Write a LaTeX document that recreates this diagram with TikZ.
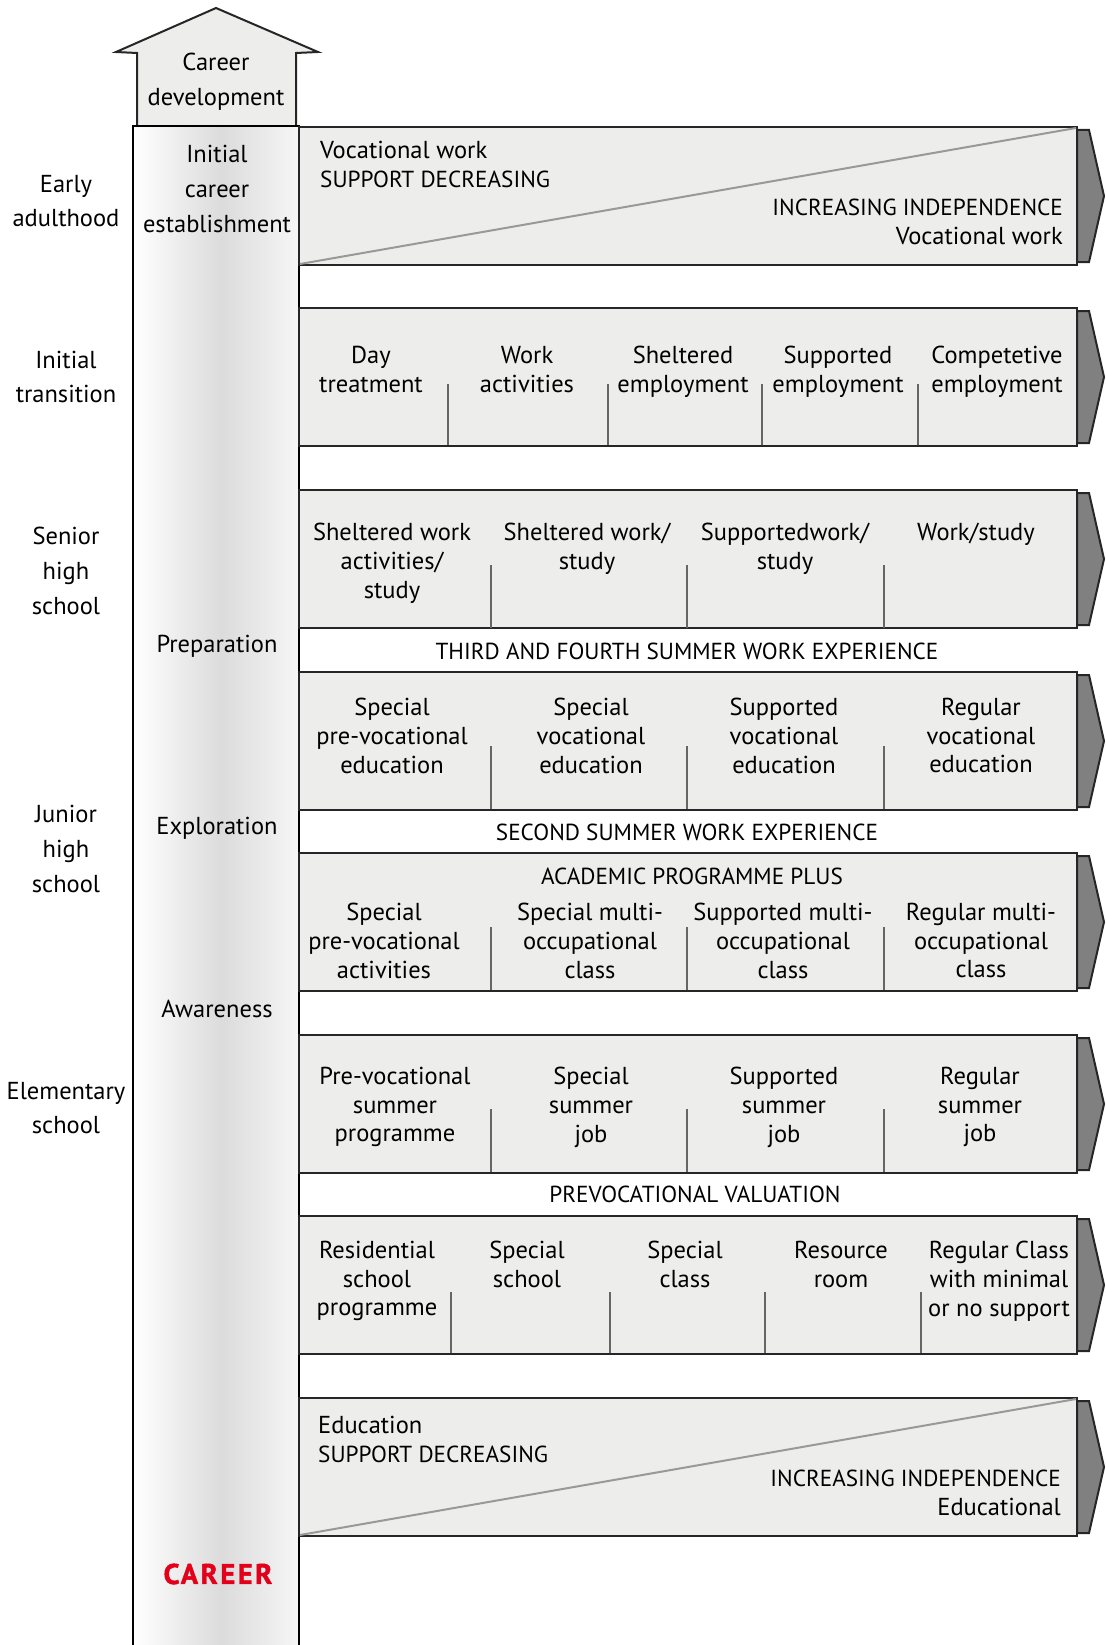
\documentclass[tikz,border=0pt]{standalone}
\usepackage{fontspec}
\setmainfont{PT Sans}
\newfontfamily\careerfont[LetterSpace=9,BoldFeatures={FakeBold=1.6}]{PT Sans}
\usepackage{tikz}

\definecolor{bandgray}{RGB}{237,237,235}
\definecolor{tipgray}{RGB}{128,128,128}
\definecolor{careerred}{RGB}{226,0,26}
\newcommand{\capsz}{\fontsize{23.2}{28.7}\selectfont}

\begin{document}
\begin{tikzpicture}[x=1pt,y=-1pt,
	bandbox/.style={draw=black!85,fill=bandgray,line width=2pt},
	tiphead/.style={draw=black!85,fill=tipgray,line width=2pt},
	divline/.style={draw=black!60,line width=1.2pt},
	slant/.style={draw=black!40,line width=2pt},
	txtnode/.style={font=\fontsize{24.5}{28.7}\selectfont,align=center,inner sep=0pt},
	topnode/.style={txtnode,anchor=north},
	capnode/.style={txtnode,font=\capsz},
	sidenode/.style={font=\fontsize{24.5}{34.6}\selectfont,align=center,inner sep=0pt}]
		\useasboundingbox (0,0) rectangle (1105,1645);
		% career column and arrow
		\shade[left color=white,right color=gray!28] (133,126) rectangle (222,1645);
		\shade[left color=gray!28,right color=gray!7] (221,126) rectangle (299,1645);
		\draw[bandbox,line join=miter] (137,126) -- (137,53) -- (116,52) -- (216,8) -- (318,52) -- (296,53) -- (296,126);
		\draw[line width=2pt] (133,1645) -- (133,126) -- (299,126) -- (299,1645);
		% bands
		\foreach \t in {127,308,490,672,853,1035,1216,1398}{
			\draw[bandbox] (299,\t) rectangle (1077,\t+138);
			\draw[tiphead] (1077,\t+3) -- (1089,\t+3) -- (1104,\t+69) -- (1089,\t+135) -- (1077,\t+135) -- cycle;
		}
		\draw[slant] (300,264) -- (1076,128);
		\draw[slant] (300,1535) -- (1076,1399);
		% dividers
		\foreach \x in {448,608,762,918} \draw[divline] (\x,384) -- (\x,445);
		\foreach \y in {565,746,927,1109}{
			\foreach \x in {491,687,884} \draw[divline] (\x,\y) -- (\x,\y+63);
		}
		\foreach \x in {451,610,765,921} \draw[divline] (\x,1292) -- (\x,1353);
		% stages
		\node [sidenode] (early) at (66,201) {Early\\adulthood};
		\node [sidenode] (transit) at (66,377) {Initial\\transition};
		\node [sidenode] (senior) at (66,571) {Senior\\high\\school};
		\node [sidenode] (junior) at (66,849) {Junior\\high\\school};
		\node [sidenode] (elem) at (66,1108) {Elementary\\school};
		% column
		\node [sidenode] (devel) at (216,82) {Career\\development};
		\node [sidenode] (establ) at (217,189) {Initial\\career\\establishment};
		\node [sidenode] (prep) at (217,646) {Preparation};
		\node [sidenode] (explor) at (217,828) {Exploration};
		\node [sidenode] (aware) at (217,1009) {Awareness};
		\node [font=\fontsize{28.5}{30}\selectfont\careerfont\bfseries,text=careerred,inner sep=0pt] (career) at (218,1574) {CAREER};
		% band 1
		\node [topnode,anchor=north west,align=left] (vocdec) at (320,141) {Vocational work\\{\capsz SUPPORT DECREASING}};
		\node [topnode,anchor=north east,align=right] (vocinc) at (1063,199) {{\capsz INCREASING INDEPENDENCE}\\Vocational work};
		% band 2
		\node [topnode] (daytr) at (371,346) {Day\\treatment};
		\node [topnode] (workact) at (527,346) {Work\\activities};
		\node [topnode] (shelemp) at (683,346) {Sheltered\\employment};
		\node [topnode] (suppemp) at (838,346) {Supported\\employment};
		\node [topnode] (compemp) at (997,346) {Competetive\\employment};
		% band 3
		\node [topnode] (shelact) at (392,523) {Sheltered work\\activities/\\study};
		\node [topnode] (shelstud) at (587,523) {Sheltered work/\\study};
		\node [topnode] (suppstud) at (785,523) {Supportedwork/\\study};
		\node [topnode] (workstud) at (976,523) {Work/study};
		\node [capnode] (third) at (687,651) {THIRD AND FOURTH SUMMER WORK EXPERIENCE};
		% band 4
		\node [topnode] (sprevoc) at (392,698) {Special\\pre-vocational\\education};
		\node [topnode] (svoc) at (591,698) {Special\\vocational\\education};
		\node [topnode] (suvoc) at (784,698) {Supported\\vocational\\education};
		\node [topnode] (rvoc) at (981,698) {Regular\\vocational\\education};
		\node [capnode] (second) at (687,832) {SECOND SUMMER WORK EXPERIENCE};
		% band 5
		\node [capnode] (acad) at (692,876) {ACADEMIC PROGRAMME PLUS};
		\node [topnode] (spreact) at (384,903) {Special\\pre-vocational\\activities};
		\node [topnode] (smulti) at (590,903) {Special multi-\\occupational\\class};
		\node [topnode] (sumulti) at (783,903) {Supported multi-\\occupational\\class};
		\node [topnode] (rmulti) at (981,903) {Regular multi-\\occupational\\class};
		% band 6
		\node [topnode] (presum) at (395,1067) {Pre-vocational\\summer\\programme};
		\node [topnode] (ssum) at (591,1067) {Special\\summer\\job};
		\node [topnode] (susum) at (784,1067) {Supported\\summer\\job};
		\node [topnode] (rsum) at (980,1067) {Regular\\summer\\job};
		\node [capnode] (preval) at (695,1194) {PREVOCATIONAL VALUATION};
		% band 7
		\node [topnode] (resid) at (377,1241) {Residential\\school\\programme};
		\node [topnode] (sschool) at (527,1241) {Special\\school};
		\node [topnode] (sclass) at (685,1241) {Special\\class};
		\node [topnode] (resroom) at (841,1241) {Resource\\room};
		\node [topnode] (rclass) at (999,1241) {Regular Class\\with minimal\\or no support};
		% band 8
		\node [topnode,anchor=north west,align=left] (edudec) at (318,1416) {Education\\{\capsz SUPPORT DECREASING}};
		\node [topnode,anchor=north east,align=right] (eduinc) at (1061,1470) {{\capsz INCREASING INDEPENDENCE}\\Educational};
	\end{tikzpicture}
\end{document}
